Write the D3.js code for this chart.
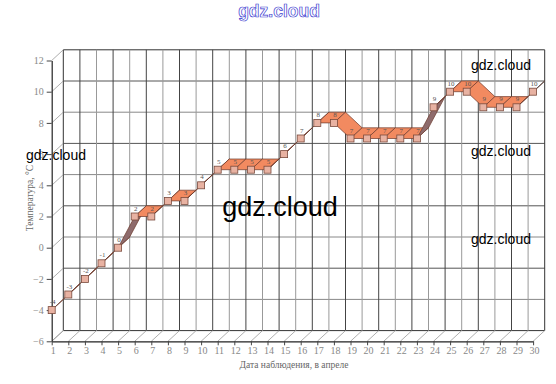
<!DOCTYPE html>
<html>
<head>
<meta charset="utf-8">
<script src="https://cdn.jsdelivr.net/npm/d3@7"></script>
<style>
body { margin: 0; background: #fff; }
svg { display: block; }
</style>
</head>
<body>
<svg id="svg_elem"></svg>
<script>
//define data
const days = [1,2,3,4,5,6,7,8,9,10,11,12,13,14,15,16,17,18,19,20,21,22,23,24,25,26,27,28,29,30];
const temps = [-4,-3,-2,-1,0,2,2,3,3,4,5,5,5,5,6,7,8,8,7,7,7,7,7,9,10,10,9,9,9,10];
const yTicks = [-6,-4,-2,0,2,4,6,8,10,12];
const xTitle = 'Дата наблюдения, в апреле';
const yTitle = 'Температура, °С';
const mark = 'gdz.cloud';

//define constants
const svgWidth = 556;
const svgHeight = 384;
const depthX = 11.6;
const depthY = -10.7;

var svg = d3.select('#svg_elem')
	.attr('width', svgWidth)
	.attr('height', svgHeight);

//scales (front plane)
var xScale = d3.scaleLinear().domain([1, 30]).range([51.7, 533.1]);
var yScale = d3.scaleLinear().domain([-6, 12]).range([341.3, 60.5]);

const x0 = xScale(1), x1 = xScale(30);
const yb = yScale(-6), yt = yScale(12);

//back wall gridlines
var grid = svg.append('g');
grid.selectAll('.hgrid')
	.data(yTicks)
	.enter()
	.append('line')
		.attr('x1', x0 + depthX).attr('x2', x1 + depthX)
		.attr('y1', d => yScale(d) + depthY).attr('y2', d => yScale(d) + depthY)
		.attr('stroke', d => (d == 12 || d == -6) ? '#333' : (d % 4 ? '#555' : '#888'))
		.attr('stroke-width', 1);
grid.selectAll('.vgrid')
	.data(days)
	.enter()
	.append('line')
		.attr('x1', d => xScale(d) + depthX).attr('x2', d => xScale(d) + depthX)
		.attr('y1', yt + depthY).attr('y2', yb + depthY)
		.attr('stroke', d => (d == 1 || d == 30) ? '#333' : (d % 2 ? '#999' : '#444'))
		.attr('stroke-width', 1);

//side wall and floor diagonals
grid.selectAll('.ydiag')
	.data(yTicks)
	.enter()
	.append('line')
		.attr('x1', x0).attr('x2', x0 + depthX)
		.attr('y1', d => yScale(d)).attr('y2', d => yScale(d) + depthY)
		.attr('stroke', '#999').attr('stroke-width', 0.8);
grid.selectAll('.xdiag')
	.data(days)
	.enter()
	.append('line')
		.attr('x1', d => xScale(d)).attr('x2', d => xScale(d) + depthX)
		.attr('y1', yb).attr('y2', yb + depthY)
		.attr('stroke', '#999').attr('stroke-width', 0.8);

//axes
var yAxis = d3.axisLeft(yScale).tickValues(yTicks).tickSize(5).tickSizeOuter(0);
var xAxis = d3.axisBottom(xScale).tickValues(days).tickSize(4).tickSizeOuter(0);

var gy = svg.append('g')
	.attr('transform', `translate(${x0}, 0)`)
	.call(yAxis);
var gx = svg.append('g')
	.attr('transform', `translate(0, ${yb})`)
	.call(xAxis);
[gx, gy].forEach(g => {
	g.select('.domain').attr('stroke', '#222').attr('stroke-width', 1.2);
	g.selectAll('.tick line').attr('stroke', '#444');
	g.selectAll('.tick text')
		.attr('fill', '#888')
		.style('font-family', '"Liberation Serif", serif')
		.style('font-size', '10px');
});
gx.selectAll('.tick text').attr('dy', '0.55em').attr('dx', '1px');

//axis titles
svg.append('text')
	.text(xTitle)
	.attr('x', 294).attr('y', 368)
	.attr('text-anchor', 'middle')
	.attr('fill', '#666')
	.style('font-family', '"Liberation Serif", serif')
	.style('font-size', '9.5px');
svg.append('text')
	.text(yTitle)
	.attr('transform', `translate(33, 198) rotate(-90)`)
	.attr('text-anchor', 'middle')
	.attr('fill', '#666')
	.style('font-family', '"Liberation Serif", serif')
	.style('font-size', '9.5px');

//3d ribbon of the line
var pts = days.map((d, i) => [xScale(d), yScale(temps[i])]);
var segs = d3.pairs(pts);
svg.append('g')
	.selectAll('path')
	.data(segs)
	.enter()
	.append('path')
		.attr('d', s => {
			let [a, b] = s;
			return `M${a[0]},${a[1]}L${b[0]},${b[1]}L${b[0] + depthX},${b[1] + depthY}L${a[0] + depthX},${a[1] + depthY}Z`;
		})
		.attr('fill', s => {
			let sx = s[1][0] - s[0][0], sy = s[1][1] - s[0][1];
			let cross = sx * depthY - sy * depthX;
			return cross > 20 ? '#8e6b6c' : '#f28a60';
		})
		.attr('stroke', '#6b3a2c')
		.attr('stroke-width', 0.7)
		.attr('stroke-linejoin', 'round');

//end cap line of ribbon
svg.append('line')
	.attr('x1', pts[29][0]).attr('y1', pts[29][1])
	.attr('x2', pts[29][0] + depthX).attr('y2', pts[29][1] + depthY)
	.attr('stroke', '#555').attr('stroke-width', 0.8);

//markers
svg.append('g')
	.selectAll('rect')
	.data(pts)
	.enter()
	.append('rect')
		.attr('x', d => d[0] - 3.5)
		.attr('y', d => d[1] - 3.5)
		.attr('width', 7)
		.attr('height', 7)
		.attr('fill', '#e8b2a2')
		.attr('stroke', '#7a4a3c')
		.attr('stroke-width', 0.8);

//value labels
svg.append('g')
	.selectAll('text')
	.data(pts)
	.enter()
	.append('text')
		.text((d, i) => temps[i])
		.attr('x', d => d[0] + 1)
		.attr('y', d => d[1] - 6)
		.attr('text-anchor', 'middle')
		.attr('fill', '#555')
		.style('font-family', '"Liberation Serif", serif')
		.style('font-size', '7px');

//watermarks
var marks = [[279, 17, 17.5], [56, 160, 14], [501, 70, 14], [501, 156, 14], [501, 244, 14], [280, 216, 27]];
svg.append('g')
	.selectAll('text')
	.data(marks)
	.enter()
	.append('text')
		.text(mark)
		.attr('x', d => d[0])
		.attr('y', d => d[1])
		.attr('text-anchor', 'middle')
		.style('font-family', '"Liberation Sans", Arial, sans-serif')
		.style('font-size', d => d[2] + 'px')
		.attr('fill', (d, i) => i == 0 ? '#fff' : '#000')
		.attr('stroke', (d, i) => i == 0 ? '#3c3cd0' : 'none')
		.attr('stroke-width', 0.7)
		.style('font-weight', (d, i) => i == 0 ? 'bold' : 'normal');
</script>
</body>
</html>
